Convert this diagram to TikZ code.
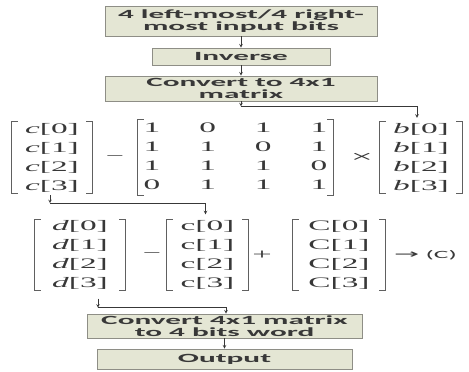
\documentclass[tikz,border=0pt]{standalone}
\usepackage{fontspec}
\newfontfamily\boxfont[FakeStretch=2.5]{Carlito}
\newfontfamily\matfont[FakeStretch=2.3]{Liberation Serif}
\newfontfamily\arrfont[FakeStretch=2.4]{DejaVu Sans}
\usetikzlibrary{shadows}
\definecolor{boxfill}{HTML}{E4E6D4}
\definecolor{boxline}{HTML}{8E8E86}
\definecolor{ink}{HTML}{383838}
\tikzset{
  >=stealth,
  stepbox/.style={draw=boxline, fill=boxfill, line width=0.8pt, inner sep=0pt, align=center, text=ink,
    font=\boxfont\bfseries\fontsize{12.5}{12.5}\selectfont,
    drop shadow={shadow xshift=1pt, shadow yshift=-1pt, fill=gray, opacity=0.5}},
  vec/.style={inner sep=0pt, align=center, text=ink, minimum height=71pt, font=\matfont\fontsize{14.5}{19}\selectfont},
  op/.style={inner sep=0pt, text=ink, font=\matfont\fontsize{14}{19}\selectfont},
  brk/.style={draw=ink!80, line width=0.9pt},
  link/.style={->, draw=ink, line width=0.6pt}
}

\begin{document}
\begin{tikzpicture}[x=1pt,y=-1pt]
\useasboundingbox (0,0) rectangle (469,372);

\node[stepbox, minimum width=272pt, minimum height=30pt] (inbits) at (241,21) {4 left-most/4 right-\\most input bits};
\node[stepbox, minimum width=178pt, minimum height=17pt] (inv) at (241,56.5) {Inverse};
\node[stepbox, minimum width=272pt, minimum height=25pt] (tomat) at (241,88.5) {Convert to 4x1\\matrix};

% first equation
\node[vec, minimum width=80pt] (cvec) at (52,157.5) {\textit{c}[0]\\\textit{c}[1]\\\textit{c}[2]\\\textit{c}[3]};
\node[op] (minus1) at (115,157.5) {−};
\node[vec, minimum width=195pt] (hmat) at (235.5,157.5) {\setlength{\tabcolsep}{19.5pt}\begin{tabular}{@{}cccc@{}}
1&0&1&1\\1&1&0&1\\1&1&1&0\\0&1&1&1\end{tabular}};
\node[op, font=\matfont\fontsize{17}{19}\selectfont] (times) at (362,157.5) {×};
\node[vec, minimum width=82pt] (bvec) at (421,157.5) {\textit{b}[0]\\\textit{b}[1]\\\textit{b}[2]\\\textit{b}[3]};

% second equation
\node[vec, minimum width=90pt] (dvec) at (80,255) {\textit{d}[0]\\\textit{d}[1]\\\textit{d}[2]\\\textit{d}[3]};
\node[op] (minus2) at (152,255) {−};
\node[vec, minimum width=81pt] (cvec2) at (207.5,255) {c[0]\\c[1]\\c[2]\\c[3]};
\node[op, font=\matfont\fontsize{15}{19}\selectfont] (plus) at (262,255) {+};
\node[vec, minimum width=92pt] (Cvec) at (339,255) {C[0]\\C[1]\\C[2]\\C[3]};
\node[op, anchor=west, font=\boxfont\fontsize{11}{13}\selectfont] (res) at (394,255) {{\arrfont\fontsize{12.5}{13}\selectfont →} (C)};

\foreach \m in {cvec,hmat,bvec,dvec,cvec2,Cvec}{
  \draw[brk] ([xshift=6pt]\m.north west) -- (\m.north west) -- (\m.south west) -- ([xshift=6pt]\m.south west);
  \draw[brk] ([xshift=-6pt]\m.north east) -- (\m.north east) -- (\m.south east) -- ([xshift=-6pt]\m.south east);
}

\node[stepbox, minimum width=275pt, minimum height=24pt] (tobits) at (224.5,326) {Convert 4x1 matrix\\to 4 bits word};
\node[stepbox, minimum width=255pt, minimum height=20pt] (outp) at (224.5,359) {Output};

\draw[link] (inbits) -- (inv);
\draw[link] (inv) -- (tomat);
\draw[link] (tomat.south) -- ++(0,5) coordinate (j1);
\draw[link] (j1) -| ([xshift=-4pt,yshift=4pt]bvec.north);
\draw[link] ([xshift=-2pt,yshift=-2pt]cvec.south) -- ++(0,8) coordinate (j2);
\draw[link] (j2) -| ([xshift=-2pt,yshift=5pt]cvec2.north);
\draw[link] ([xshift=18pt,yshift=-8pt]dvec.south) -- ++(0,9) coordinate (j3);
\draw[link] (j3) -| ([xshift=1.5pt]tobits.north);
\draw[link] (tobits) -- (outp);
\end{tikzpicture}
\end{document}
